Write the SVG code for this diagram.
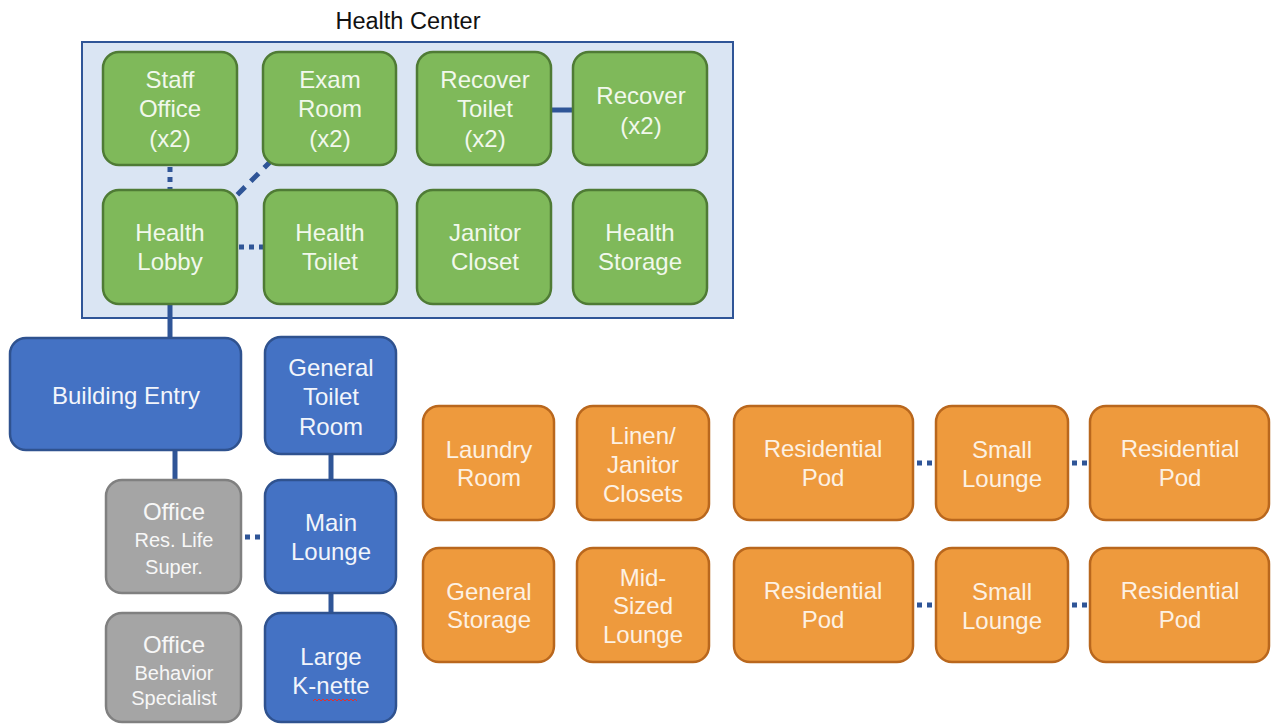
<svg xmlns="http://www.w3.org/2000/svg" width="1271" height="725" viewBox="0 0 1271 725">
<style>
text{font-family:"Liberation Sans",Arial,sans-serif;text-anchor:middle;font-size:24px}
.g rect{fill:#7fb95a;stroke:#4f7b35;stroke-width:2.5}
.g text{fill:#f1f8ec}
.b rect{fill:#4472c4;stroke:#2f528f;stroke-width:2.5}
.b text{fill:#f2f5fb}
.y rect{fill:#a5a5a5;stroke:#808080;stroke-width:2.5}
.y text{fill:#f7f7f7}
.o rect{fill:#ee9a3d;stroke:#b9671d;stroke-width:2.5}
.o text{fill:#fdf1e3}
.sm{font-size:20px}
.c{stroke:#2f5597;stroke-width:5;fill:none}
.dot{stroke-dasharray:5 5}
.dash{stroke-dasharray:11 8}
</style>
<rect width="1271" height="725" fill="#ffffff"/>
<g id="health-center">
<rect x="82" y="42" width="651" height="276" fill="#dae5f3" stroke="#2f5597" stroke-width="2"/>
<text x="408" y="29" style="font-size:23.5px" fill="#111">Health Center</text>
</g>
<g id="connectors">
<line class="c dot" x1="170" y1="167" x2="170" y2="190"/>
<line class="c dash" x1="272" y1="160" x2="234" y2="198"/>
<line class="c" x1="551" y1="110" x2="574" y2="110"/>
<line class="c dot" x1="239" y1="247" x2="264" y2="247"/>
<line class="c" x1="170" y1="304" x2="170" y2="338"/>
<line class="c" x1="175" y1="450" x2="175" y2="480"/>
<line class="c" x1="331" y1="454" x2="331" y2="480"/>
<line class="c" x1="331" y1="593" x2="331" y2="613"/>
<line class="c dot" x1="245" y1="537" x2="265" y2="537"/>
<line class="c dot" x1="917" y1="463" x2="936" y2="463"/>
<line class="c dot" x1="1072" y1="463" x2="1090" y2="463"/>
<line class="c dot" x1="917" y1="605" x2="936" y2="605"/>
<line class="c dot" x1="1072" y1="605" x2="1090" y2="605"/>
</g>
<g id="staff-office" class="g"><rect x="103" y="52" width="134" height="113" rx="16"/><text x="170" y="88">Staff</text><text x="170" y="117">Office</text><text x="170" y="147">(x2)</text></g>
<g id="exam-room" class="g"><rect x="263" y="52" width="133" height="113" rx="16"/><text x="330" y="88">Exam</text><text x="330" y="117">Room</text><text x="330" y="147">(x2)</text></g>
<g id="recover-toilet" class="g"><rect x="417" y="52" width="134" height="113" rx="16"/><text x="485" y="88">Recover</text><text x="485" y="117">Toilet</text><text x="485" y="147">(x2)</text></g>
<g id="recover" class="g"><rect x="573" y="52" width="134" height="113" rx="16"/><text x="641" y="104">Recover</text><text x="641" y="134">(x2)</text></g>
<g id="health-lobby" class="g"><rect x="103" y="190" width="134" height="114" rx="16"/><text x="170" y="241">Health</text><text x="170" y="270">Lobby</text></g>
<g id="health-toilet" class="g"><rect x="264" y="190" width="133" height="114" rx="16"/><text x="330" y="241">Health</text><text x="330" y="270">Toilet</text></g>
<g id="janitor-closet" class="g"><rect x="417" y="190" width="134" height="114" rx="16"/><text x="485" y="241">Janitor</text><text x="485" y="270">Closet</text></g>
<g id="health-storage" class="g"><rect x="573" y="190" width="134" height="114" rx="16"/><text x="640" y="241">Health</text><text x="640" y="270">Storage</text></g>
<g id="building-entry" class="b"><rect x="10" y="338" width="231" height="112" rx="16"/><text x="126" y="404">Building Entry</text></g>
<g id="general-toilet-room" class="b"><rect x="265" y="337" width="131" height="117" rx="16"/><text x="331" y="376">General</text><text x="331" y="405">Toilet</text><text x="331" y="435">Room</text></g>
<g id="main-lounge" class="b"><rect x="265" y="480" width="131" height="113" rx="16"/><text x="331" y="531">Main</text><text x="331" y="560">Lounge</text></g>
<g id="large-k-nette" class="b"><rect x="265" y="613" width="131" height="109" rx="16"/><text x="331" y="665">Large</text><text x="331" y="694">K-nette</text><path d="M313 701 l2 -2 2 2 2 -2 2 2 2 -2 2 2 2 -2 2 2 2 -2 2 2 2 -2 2 2 2 -2 2 2 2 -2 2 2 2 -2 2 2 2 -2 2 2 2 -2 2 2" fill="none" stroke="#e03030" stroke-width="1"/></g>
<g id="office-res-life" class="y"><rect x="106" y="480" width="135" height="113" rx="16"/><text x="174" y="520">Office</text><text class="sm" x="174" y="547">Res. Life</text><text class="sm" x="174" y="574">Super.</text></g>
<g id="office-behavior" class="y"><rect x="106" y="613" width="135" height="109" rx="16"/><text x="174" y="653">Office</text><text class="sm" x="174" y="680">Behavior</text><text class="sm" x="174" y="705">Specialist</text></g>
<g id="laundry-room" class="o"><rect x="423" y="406" width="131" height="114" rx="16"/><text x="489" y="458">Laundry</text><text x="489" y="486">Room</text></g>
<g id="linen-janitor" class="o"><rect x="577" y="406" width="132" height="114" rx="16"/><text x="643" y="444">Linen/</text><text x="643" y="473">Janitor</text><text x="643" y="502">Closets</text></g>
<g id="res-pod-1" class="o"><rect x="734" y="406" width="179" height="114" rx="16"/><text x="823" y="457">Residential</text><text x="823" y="486">Pod</text></g>
<g id="small-lounge-1" class="o"><rect x="936" y="406" width="132" height="114" rx="16"/><text x="1002" y="458">Small</text><text x="1002" y="487">Lounge</text></g>
<g id="res-pod-2" class="o"><rect x="1090" y="406" width="179" height="114" rx="16"/><text x="1180" y="457">Residential</text><text x="1180" y="486">Pod</text></g>
<g id="general-storage" class="o"><rect x="423" y="548" width="131" height="114" rx="16"/><text x="489" y="600">General</text><text x="489" y="628">Storage</text></g>
<g id="mid-sized-lounge" class="o"><rect x="577" y="548" width="132" height="114" rx="16"/><text x="643" y="586">Mid-</text><text x="643" y="614">Sized</text><text x="643" y="643">Lounge</text></g>
<g id="res-pod-3" class="o"><rect x="734" y="548" width="179" height="114" rx="16"/><text x="823" y="599">Residential</text><text x="823" y="628">Pod</text></g>
<g id="small-lounge-2" class="o"><rect x="936" y="548" width="132" height="114" rx="16"/><text x="1002" y="600">Small</text><text x="1002" y="629">Lounge</text></g>
<g id="res-pod-4" class="o"><rect x="1090" y="548" width="179" height="114" rx="16"/><text x="1180" y="599">Residential</text><text x="1180" y="628">Pod</text></g>
</svg>
